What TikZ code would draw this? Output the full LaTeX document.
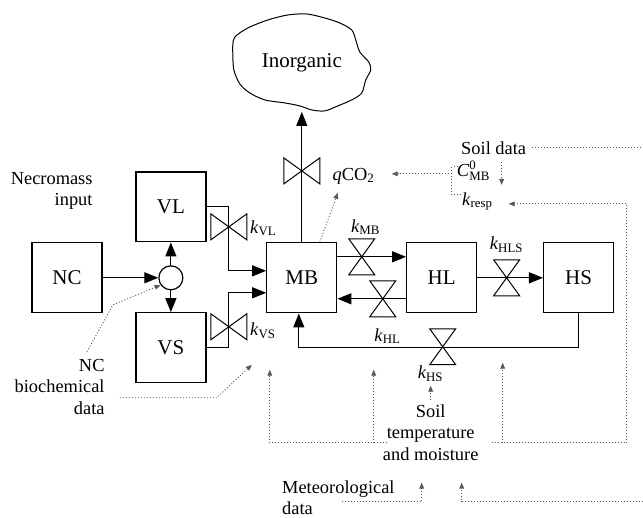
\documentclass[tikz,border=0pt]{standalone}
\usepackage{amsmath}
\usepackage{fontspec}
\setmainfont{Liberation Serif}
\usepackage{tikz}
\usetikzlibrary{arrows.meta}

\begin{document}
\begin{tikzpicture}[x=0.5pt, y=-0.5pt,
    box/.style={draw, line width=0.65pt, minimum width=35pt, minimum height=35pt, inner sep=0pt, font=\fontsize{10.5}{12}\selectfont},
    big/.style={inner sep=0pt, font=\fontsize{10.5}{12}\selectfont},
    lbl/.style={inner sep=0pt, font=\fontsize{9.2}{10.8}\selectfont},
    flow/.style={line width=0.6pt, -{Triangle[length=7pt,width=5.5pt]}},
    pipe/.style={line width=0.6pt},
    info/.style={line width=0.45pt, black!65, dash pattern=on 0.5pt off 1pt, -{Triangle[length=3pt,width=2.4pt]}},
    valvev/.pic={\draw[line width=0.5pt] (-13,-18) -- (13,18) -- (-13,18) -- (13,-18) -- cycle;},
    valveh/.pic={\draw[line width=0.5pt] (-18,-13) -- (18,13) -- (18,-13) -- (-18,13) -- cycle;}]
        % Page
        \fill[white] (0,0) rectangle (643,518);

        % Inorganic cloud
        \draw[line width=0.5pt] plot[smooth cycle, tension=0.5] coordinates {(235,37) (248,28) (268,20) (288,15) (307,14) (325,18) (340,23) (352,30) (356,40) (360,52) (369,62) (371,70) (366,80) (362,93) (352,100) (338,106) (325,111) (312,110) (300,106) (285,103) (265,100) (250,93) (240,84) (234,70) (233,55) (233,45)};
        \node[big] (inorg) at (302,63) {Inorganic};
        \coordinate (cloudbot) at (302,112);

        % Pools
        \node[box] (NC) at (67,278) {NC};
        \node[box] (VL) at (171,207) {VL};
        \node[box] (VS) at (171,348) {VS};
        \node[box] (MB) at (302,278) {MB};
        \node[box] (HL) at (442,278) {HL};
        \node[box] (HS) at (579,278) {HS};
        \node[draw, circle, line width=0.6pt, minimum size=12pt, inner sep=0pt] (mix) at (171,278) {};

        % Necromass input
        \draw[flow] (NC.east) -- (mix.west);
        \draw[flow] (mix.north) -- (VL.south);
        \draw[flow] (mix.south) -- (VS.north);

        % Fluxes to and from MB
        \draw[flow] (VL.east) -- (229,207) -- (229,271) -- ([yshift=3.5pt]MB.west);
        \draw[flow] (VS.east) -- (229,348) -- (229,293) -- ([yshift=-7.5pt]MB.west);
        \draw[flow] (MB.north) -- (cloudbot);
        \draw[flow] ([yshift=10.5pt]MB.east) -- ([yshift=10.5pt]HL.west);
        \draw[flow] ([yshift=-10.5pt]HL.west) -- ([yshift=-10.5pt]MB.east);
        \draw[flow] (HL.east) -- (HS.west);
        \draw[flow] (HS.south) -- ++(0,34) -| ([xshift=-1.5pt]MB.south);

        % Valves
        \pic at (229,227) {valveh};
        \pic at (229,327) {valveh};
        \pic at (302,171) {valveh};
        \pic at (362,257) {valvev};
        \pic at (383,299) {valvev};
        \pic at (507,278) {valvev};
        \pic at (443,347) {valvev};

        % Rate labels
        \node[lbl, anchor=west] (kVL) at (250,228) {\textit{k}$_{\text{VL}}$};
        \node[lbl, anchor=west] (kVS) at (250,331) {\textit{k}$_{\text{VS}}$};
        \node[lbl] (kMB) at (366,227) {\textit{k}$_{\text{MB}}$};
        \node[lbl] (kHL) at (388,336) {\textit{k}$_{\text{HL}}$};
        \node[lbl] (kHLS) at (507,245) {\textit{k}$_{\text{HLS}}$};
        \node[lbl] (kHS) at (431,374) {\textit{k}$_{\text{HS}}$};
        \node[lbl] (qco) at (354,176) {\textit{q}CO$_{\text{2}}$};
        \node[lbl] (cmb) at (474,171) {\textit{C}$^{\text{0}}_{\text{MB}}$};
        \node[lbl] (kresp) at (478,202) {\textit{k}$_{\text{resp}}$};

        % Data sources
        \node[lbl, align=right, anchor=east] (necro) at (93,191) {Necromass\\input};
        \node[lbl, align=right, anchor=east] (ncdata) at (105,387) {NC\\biochemical\\data};
        \node[lbl] (soildata) at (494,148) {Soil data};
        \node[lbl, align=center] (soiltm) at (431,433) {Soil\\temperature\\and moisture};
        \node[lbl, align=left, anchor=west] (meteo) at (282,498) {Meteorological\\data};

        % Data links
        \coordinate (ncd) at (87,352);
        \coordinate (bio) at (120,398);
        \coordinate (stl) at (387,443);
        \coordinate (str) at (492,443);
        \coordinate (met) at (342,502);
        \coordinate (edgeb) at (643,502);
        \coordinate (edget) at (643,148);
        \draw[info] (ncd) -- (113,305) -- (mix.215);
        \draw[info] (bio) -- (217,398) -- (252,365);
        \draw[info] (stl) -- (270,443) -- (270,370);
        \draw[info] (374,443) -- (374,370);
        \draw[info] (str) -- (627,443) -- (627,204) -- (509,204);
        \draw[info] (503,443) -- (503,363);
        \draw[info, shorten <=2pt, shorten >=2pt] (soiltm.north) -- (kHS.south);
        \draw[info] (met) -- (422,502) -- (422,483);
        \draw[info] (edgeb) -- (462,502) -- (462,483);
        \draw[info, -] ([xshift=3pt]soildata.east) -- (edget);
        \draw[info] (502,162) -- (502,185);
        \draw[info, -] (458,167) -- (452,167) -- (452,195) -- (462,195);
        \draw[info] (452,174) -- (392,174);
        \draw[info] ([xshift=9pt]MB.north) -- (338,193);
\end{tikzpicture}
\end{document}
